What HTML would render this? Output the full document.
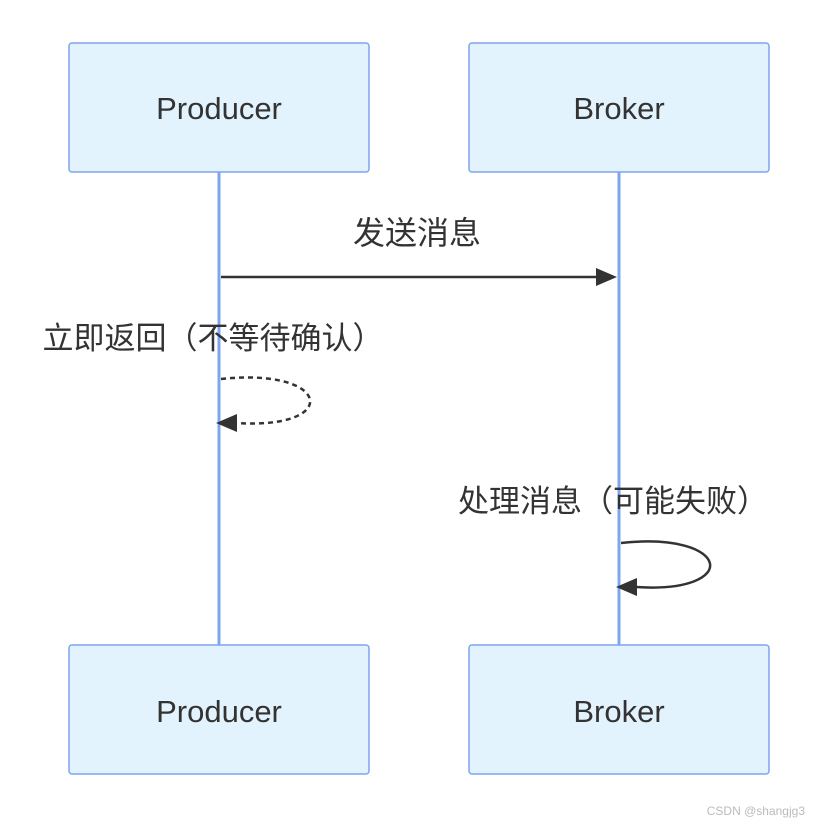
<!DOCTYPE html>
<html><head><meta charset="utf-8"><style>
html,body{margin:0;padding:0;background:#fff;}
svg{display:block;}
text{font-family:"Liberation Sans","Noto Sans CJK SC",sans-serif;fill:#333;}
</style></head><body>
<svg width="822" height="827" viewBox="0 0 822 827" xmlns="http://www.w3.org/2000/svg">
<line x1="219" y1="172" x2="219" y2="645" stroke="#7fa4f0" stroke-width="3"/>
<line x1="619" y1="172" x2="619" y2="645" stroke="#7fa4f0" stroke-width="3"/>
<rect x="69" y="43" width="300" height="129" rx="3" fill="#e3f3fd" stroke="#7fa4f0" stroke-width="1.5"/>
<rect x="469" y="43" width="300" height="129" rx="3" fill="#e3f3fd" stroke="#7fa4f0" stroke-width="1.5"/>
<rect x="69" y="645" width="300" height="129" rx="3" fill="#e3f3fd" stroke="#7fa4f0" stroke-width="1.5"/>
<rect x="469" y="645" width="300" height="129" rx="3" fill="#e3f3fd" stroke="#7fa4f0" stroke-width="1.5"/>
<text x="219" y="119" font-size="31" text-anchor="middle">Producer</text>
<text x="619" y="119" font-size="31" text-anchor="middle">Broker</text>
<text x="219" y="722" font-size="31" text-anchor="middle">Producer</text>
<text x="619" y="722" font-size="31" text-anchor="middle">Broker</text>
<text x="417" y="244" font-size="32" text-anchor="middle">发送消息</text>
<line x1="221" y1="277" x2="596" y2="277" stroke="#333" stroke-width="2.5"/>
<path d="M596,268 L617,277 L596,286 z" fill="#333"/>
<text x="213" y="349" font-size="31" text-anchor="middle">立即返回（不等待确认）</text>
<path d="M221,379 C332,367 342,430 236,423" fill="none" stroke="#333" stroke-width="2.5" stroke-dasharray="5,4"/>
<path d="M237,414 L216,423 L237,432 z" fill="#333"/>
<text x="613" y="512" font-size="31" text-anchor="middle">处理消息（可能失败）</text>
<path d="M621,543 C732,531 742,594 636,587" fill="none" stroke="#333" stroke-width="2.5"/>
<path d="M637,578 L616,587 L637,596 z" fill="#333"/>
<text x="805" y="815" font-size="12" text-anchor="end" style="fill:#bbb">CSDN @shangjg3</text>
</svg>
</body></html>
